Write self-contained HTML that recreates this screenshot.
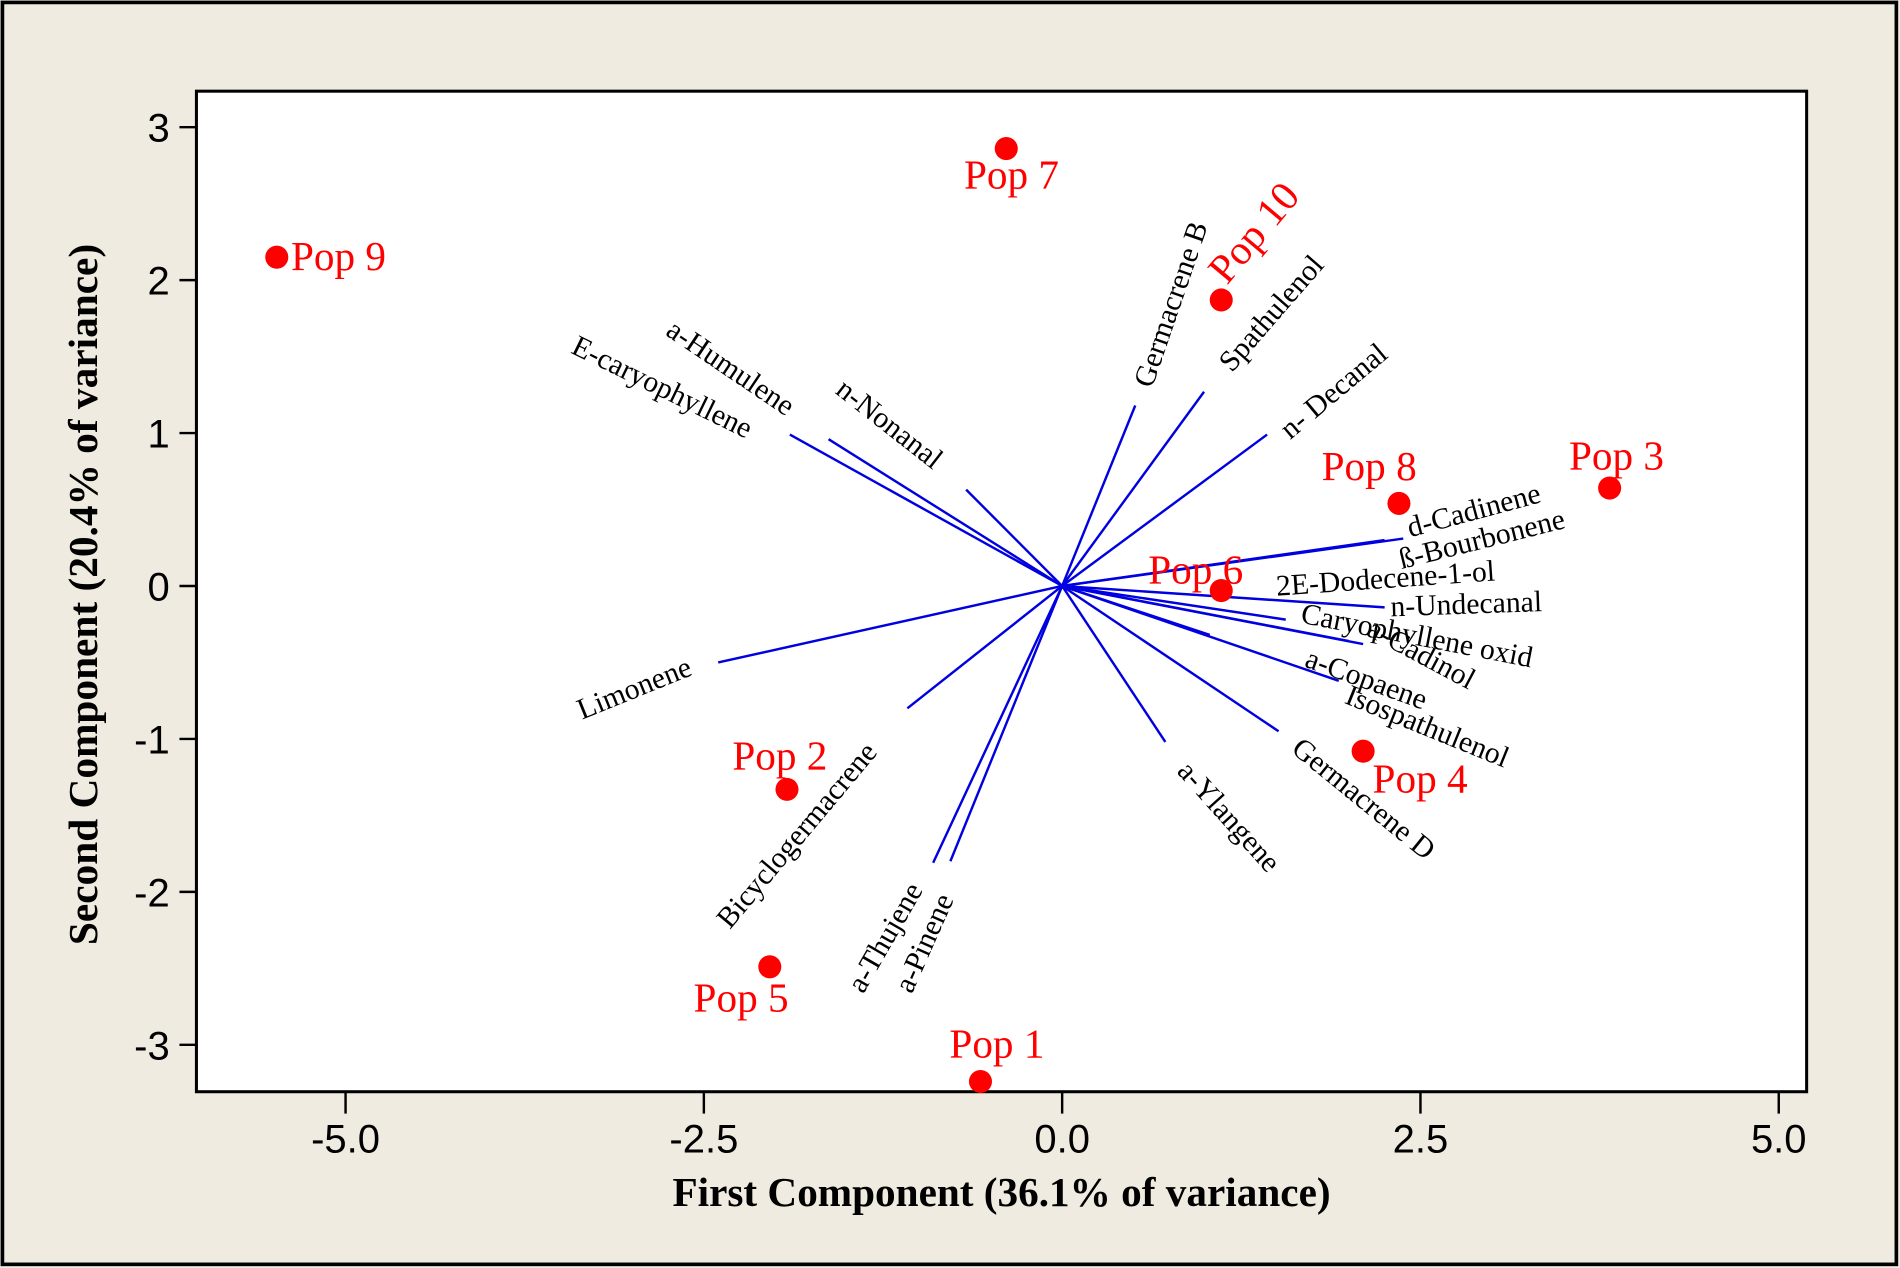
<!DOCTYPE html>
<html><head><meta charset="utf-8"><style>
html,body{margin:0;padding:0;background:#efebe1;}
svg{display:block;}
.tk{font-family:"Liberation Sans",sans-serif;font-size:33px;fill:#000;}
.lb{font-family:"Liberation Serif",serif;font-size:24.5px;fill:#000;}
.pl{font-family:"Liberation Serif",serif;font-size:34px;fill:#f00;}
.at{font-family:"Liberation Serif",serif;font-size:34px;font-weight:bold;fill:#000;}
</style></head><body>
<svg id="chart" width="1900" height="1268" viewBox="0 0 1567 1043" preserveAspectRatio="none" xmlns="http://www.w3.org/2000/svg">
<rect x="2" y="2" width="1562" height="1038" fill="#efebe1" stroke="#000" stroke-width="3"/>
<rect x="162" y="75" width="1328" height="823" fill="#fff" stroke="#000" stroke-width="2.5"/>
<g id="vec"></g><g id="pts"></g><g id="axes"></g>
<text class="at" x="826" y="992" text-anchor="middle">First Component (36.1%  of variance)</text>
<text class="at" transform="translate(80,489) rotate(-90)" text-anchor="middle">Second Component (20.4%  of variance)</text>
</svg>
<script>
const xTicks=[-5.0,-2.5,0.0,2.5,5.0];
const xTickLabels=["-5.0","-2.5","0.0","2.5","5.0"];
const yTicks=[3,2,1,0,-1,-2,-3];
const yTickLabels=["3","2","1","0","-1","-2","-3"];
const popNames=["Pop 1","Pop 2","Pop 3","Pop 4","Pop 5","Pop 6","Pop 7","Pop 8","Pop 9","Pop 10"];
const popX=[-0.57,-1.92,3.82,2.10,-2.04,1.11,-0.39,2.35,-5.48,1.11];
const popY=[-3.24,-1.33,0.64,-1.08,-2.49,-0.03,2.86,0.54,2.15,1.87];
const varNames=["E-caryophyllene","a-Humulene","n-Nonanal","Germacrene B","Spathulenol","n- Decanal","d-Cadinene","ß-Bourbonene","2E-Dodecene-1-ol","n-Undecanal","Caryophyllene oxid","a-Cadinol","a-Copaene","Isospathulenol","Germacrene D","a-Ylangene","a-Pinene","a-Thujene","Bicyclogermacrene","Limonene"];
const varX=[-1.90,-1.63,-0.67,0.51,0.99,1.43,2.38,2.25,1.56,2.25,2.00,2.10,1.93,1.03,1.51,0.72,-0.78,-0.90,-1.08,-2.40];
const varY=[0.99,0.96,0.63,1.18,1.27,0.99,0.31,0.30,-0.22,-0.14,-0.36,-0.38,-0.62,-0.32,-0.95,-1.02,-1.80,-1.81,-0.80,-0.50];
// label placement (layout, preview units): x, y, angle
const varLab=[[470,290,26],[548,275,34],[688,323,38],[950,320,-71],[1016,307,-49],[1064,362,-40],[1163,442,-15],[1156,468,-14],[1053,490,-4],[1147,507,-2],[1072,512,11],[1126,522,28],[1075,548,20],[1108,578,22],[1064,618,39],[970,635,48],[752,818,-66],[712,818,-60],[602,765,-50],[480,592,-22]];
const popLab=[[783,870,0],[604,633,0],[1294,386,0],[1132,652,0],[572,832,0],[947,480,0],[795,155,0],[1090,395,0],[240,222,0],[1012,235,-50]];
const X=v=>876+v*118.2, Y=v=>482-v*125.8;
const NS="http://www.w3.org/2000/svg";
function mk(t,p,a){const e=document.createElementNS(NS,t);for(const k in a)e.setAttribute(k,a[k]);p.appendChild(e);return e;}
const ax=document.getElementById('axes');
xTicks.forEach((v,i)=>{
 const l=mk('line',ax,{x1:X(v),x2:X(v),y1:898,y2:916,stroke:'#000','stroke-width':2});
 
 
 const t=mk('text',ax,{x:X(v),y:948,'text-anchor':'middle',class:'tk'});t.textContent=xTickLabels[i];
 
 
});
yTicks.forEach((v,i)=>{
 const l=mk('line',ax,{x1:148,x2:162,y1:Y(v),y2:Y(v),stroke:'#000','stroke-width':2});
 
 
 const t=mk('text',ax,{x:140,y:Y(v)+12,'text-anchor':'end',class:'tk'});t.textContent=yTickLabels[i];
 
 
});
const vg=document.getElementById('vec');
varNames.forEach((n,i)=>{
 const l=mk('line',vg,{x1:X(0),y1:Y(0),x2:X(varX[i]),y2:Y(varY[i]),stroke:'#0000e0','stroke-width':2});
 
 
 const p=varLab[i];
 const t=mk('text',vg,{class:'lb',transform:`translate(${p[0]},${p[1]}) rotate(${p[2]})`});t.textContent=n;
 
 
});
const pg=document.getElementById('pts');
popNames.forEach((n,i)=>{
 const c=mk('circle',pg,{cx:X(popX[i]),cy:Y(popY[i]),r:9.5,fill:'#f00'});
 
 
 const p=popLab[i];
 const t=mk('text',pg,{class:'pl',transform:`translate(${p[0]},${p[1]}) rotate(${p[2]})`});t.textContent=n;
 
 
});
</script>
</body></html>
